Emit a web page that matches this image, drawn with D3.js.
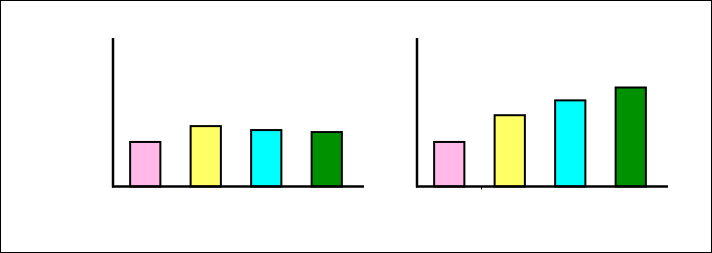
<!DOCTYPE html>
<html>
  <head>
    <meta charset="UTF-8">
    <script src="https://d3js.org/d3.v7.min.js"></script>
    <style>
      body{ margin: 0; background: #fff; }
      .axisline{ stroke: #000; stroke-width: 2.5; }
      .bar{ stroke: #000; stroke-width: 2; }
    </style>
  </head>
  <body>
    <svg id="chart" width="712" height="253"></svg>

    <script>
      // data
      const categories = ["A", "B", "C", "D"];
      const leftValues = [45, 61, 57, 55];
      const rightValues = [45, 72, 87, 100];
      const barColors = ["#ffb8e8", "#ffff66", "#00ffff", "#009100"];

      const svg = d3.select("svg#chart");
      const width = +svg.attr("width");
      const height = +svg.attr("height");

      // frame
      svg.append("rect")
         .attr("x", 0.5).attr("y", 0.5)
         .attr("width", width - 1).attr("height", height - 1)
         .attr("fill", "white").attr("stroke", "black").attr("stroke-width", 1);

      const yScale = d3.scaleLinear().domain([0, 150]).range([186.5, 38]);

      function drawPanel(x0, x1, values, tickAt){
        const g = svg.append("g");
        const xScale = d3.scaleBand().domain(categories)
                         .range([x0 + 2, x0 + 244]).paddingInner(0.5).paddingOuter(0.25);

        g.selectAll("rect.bar")
         .data(values)
         .enter().append("rect")
         .attr("class", "bar")
         .attr("x", (d, i) => xScale(categories[i]))
         .attr("y", d => yScale(d))
         .attr("width", xScale.bandwidth())
         .attr("height", d => yScale(0) - yScale(d))
         .attr("fill", (d, i) => barColors[i]);

        // axes
        g.append("line").attr("class", "axisline")
         .attr("x1", x0).attr("x2", x0)
         .attr("y1", yScale.range()[1]).attr("y2", yScale(0) + 1);
        g.append("line").attr("class", "axisline")
         .attr("x1", x0 - 1).attr("x2", x1)
         .attr("y1", yScale(0)).attr("y2", yScale(0));

        if(tickAt){
          g.append("line")
           .attr("x1", tickAt).attr("x2", tickAt)
           .attr("y1", yScale(0)).attr("y2", yScale(0) + 3)
           .attr("stroke", "black").attr("stroke-width", 1);
        }
      }

      drawPanel(113, 364, leftValues, null);
      drawPanel(417, 668, rightValues, 481.5);
    </script>
  </body>
</html>
